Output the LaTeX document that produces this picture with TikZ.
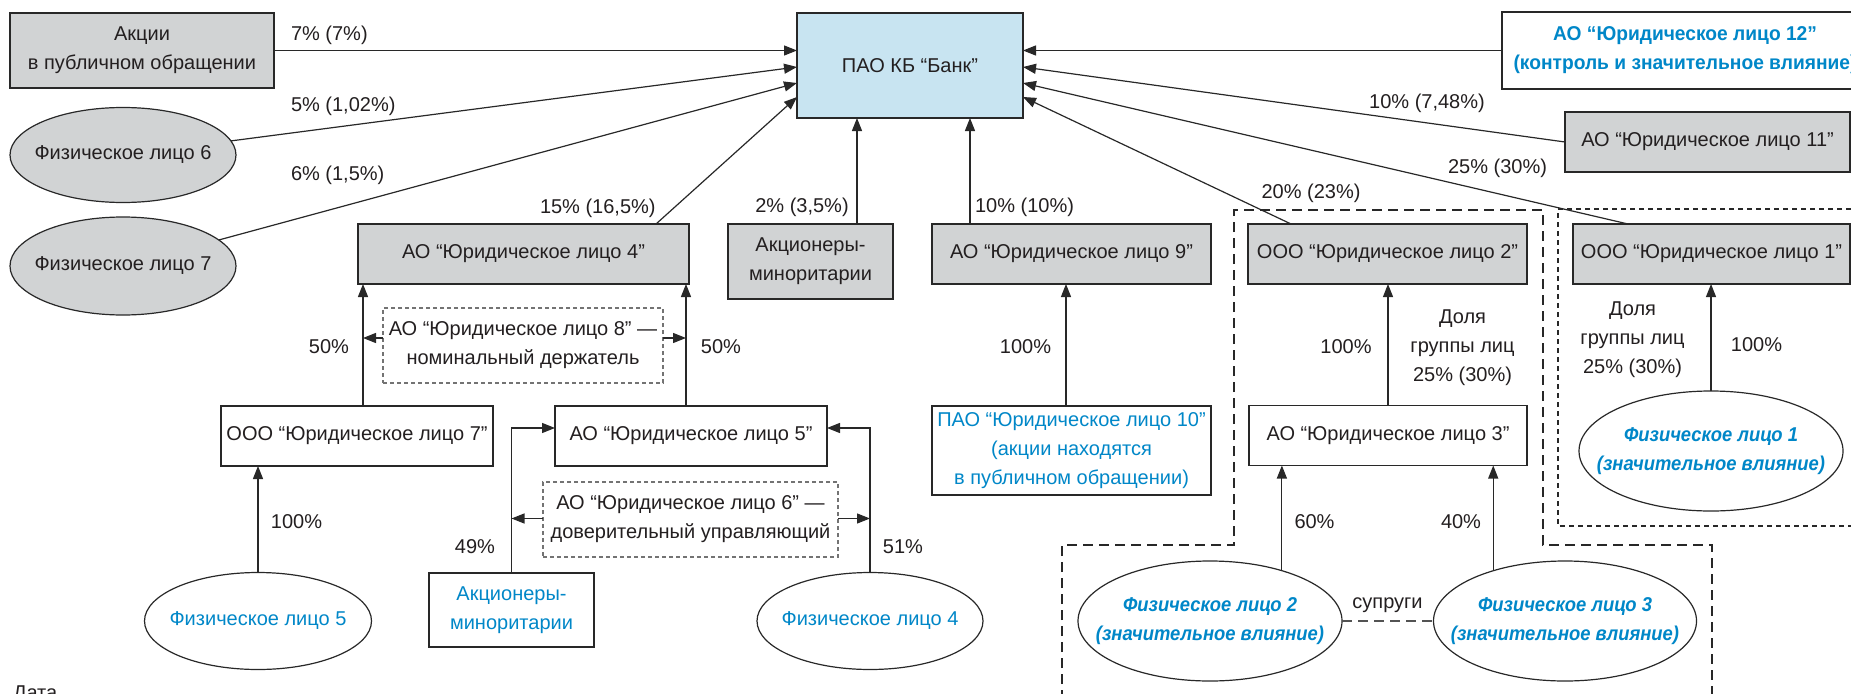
\documentclass[tikz,border=0pt]{standalone}
\usepackage{fontspec}
\setmainfont{Liberation Sans}
\usetikzlibrary{arrows.meta,shapes.geometric,calc}
\definecolor{txt}{RGB}{35,31,32}
\definecolor{blu}{RGB}{0,135,200}
\definecolor{gfill}{RGB}{209,211,212}
\definecolor{bfill}{RGB}{200,228,241}
\definecolor{ln}{RGB}{40,40,40}
\definecolor{dsh}{RGB}{115,115,115}
\begin{document}
\begin{tikzpicture}[x=1pt,y=-1pt,
  every node/.style={font=\fontsize{20}{29}\selectfont, text=txt, inner sep=0pt, outer sep=0pt},
  bi/.style={font=\fontsize{20}{29}\selectfont\bfseries\itshape\addfontfeatures{FakeStretch=0.92}, text=blu, align=center},
  bf/.style={font=\fontsize{20}{29}\selectfont\bfseries\addfontfeatures{FakeStretch=0.96}},
  box/.style={draw=ln, line width=1.3pt, align=center},
  gbox/.style={box, fill=gfill},
  wbox/.style={box, fill=white},
  nbox/.style={draw=dsh, line width=1.1pt, dash pattern=on 4pt off 3pt, align=center},
  ell/.style={ellipse, draw=ln, line width=1.2pt},
  etxt/.style={align=center},
  arr/.style={draw=ln, line width=1.2pt, -{Triangle[length=13pt,width=10pt]}},
  grpA/.style={draw=ln, line width=1.3pt, dash pattern=on 10pt off 6pt},
  grpB/.style={draw=ln, line width=1.3pt, dash pattern=on 5pt off 4pt},
  sp/.style={draw=ln!80, line width=1.3pt, dash pattern=on 10pt off 6pt}]
\useasboundingbox (0,0) rectangle (1851,693);
\clip (0,0) rectangle (1851,693);
\fill[white] (0,0) rectangle (1851,693);

% group frames
\draw[grpA] (1062,700) -- (1062,545) -- (1234,545) -- (1234,210) -- (1543,210) -- (1543,545) -- (1712,545) -- (1712,700);
\draw[grpB] (1860,209) -- (1558,209) -- (1558,526) -- (1860,526);

% boxes
\node[gbox, minimum width=264pt, minimum height=75pt] (akcii) at (142,50.5) {Акции\\в публичном обращении};
\node[box, fill=bfill, minimum width=226pt, minimum height=105pt] (bank) at (910,65.5) {ПАО КБ “Банк”};
\node[wbox, bf, text=blu, minimum width=366pt, minimum height=77pt] (ao12) at (1685,50.5) {АО “Юридическое лицо 12”\\(контроль и значительное влияние)};
\node[gbox, minimum width=285pt, minimum height=60pt] (ao11) at (1707.5,142) {АО “Юридическое лицо 11”};
\node[gbox, minimum width=331pt, minimum height=60pt] (ao4) at (523.5,254) {АО “Юридическое лицо 4”};
\node[gbox, minimum width=165pt, minimum height=75pt] (akmin) at (810.5,261.5) {Акционеры-\\миноритарии};
\node[gbox, minimum width=279pt, minimum height=60pt] (ao9) at (1071.5,254) {АО “Юридическое лицо 9”};
\node[gbox, minimum width=279pt, minimum height=60pt] (ooo2) at (1387.5,254) {ООО “Юридическое лицо 2”};
\node[gbox, minimum width=277pt, minimum height=60pt] (ooo1) at (1711.5,254) {ООО “Юридическое лицо 1”};
\node[nbox, minimum width=280pt, minimum height=75pt] (ao8) at (523,345.5) {АО “Юридическое лицо 8” —\\номинальный держатель};
\node[wbox, minimum width=272pt, minimum height=60pt] (ooo7) at (357,436) {ООО “Юридическое лицо 7”};
\node[wbox, minimum width=272pt, minimum height=60pt] (ao5) at (691,436) {АО “Юридическое лицо 5”};
\node[wbox, text=blu, minimum width=279pt, minimum height=89pt] (ao10) at (1071.5,450.5) {ПАО “Юридическое лицо 10”\\(акции находятся\\в публичном обращении)};
\node[wbox, minimum width=278pt, minimum height=60pt] (ao3) at (1388,435.5) {АО “Юридическое лицо 3”};
\node[nbox, minimum width=295pt, minimum height=75pt] (ao6) at (690.5,519.5) {АО “Юридическое лицо 6” —\\доверительный управляющий};
\node[wbox, text=blu, minimum width=165pt, minimum height=74pt] (akmin2) at (511.5,610) {Акционеры-\\миноритарии};

% ellipses
\node[ell, fill=gfill, minimum width=226pt, minimum height=95pt] (fiz6) at (123,155) {};
\node[etxt] (fiz6t) at (fiz6) {Физическое лицо 6};
\node[ell, fill=gfill, minimum width=226pt, minimum height=98pt] (fiz7) at (123,266) {};
\node[etxt] (fiz7t) at (fiz7) {Физическое лицо 7};
\node[ell, fill=white, minimum width=264pt, minimum height=120pt] (fiz1) at (1711,451) {};
\node[bi] (fiz1t) at (fiz1) {Физическое лицо 1\\(значительное влияние)};
\node[ell, fill=white, minimum width=227pt, minimum height=97pt] (fiz5) at (258,621) {};
\node[etxt, text=blu] (fiz5t) at (fiz5) {Физическое лицо 5};
\node[ell, fill=white, minimum width=226pt, minimum height=97pt] (fiz4) at (870,621) {};
\node[etxt, text=blu] (fiz4t) at (fiz4) {Физическое лицо 4};
\node[ell, fill=white, minimum width=264pt, minimum height=120pt] (fiz2) at (1210,621) {};
\node[bi] (fiz2t) at (fiz2) {Физическое лицо 2\\(значительное влияние)};
\node[ell, fill=white, minimum width=263pt, minimum height=120pt] (fiz3) at (1565,621) {};
\node[bi] (fiz3t) at (fiz3) {Физическое лицо 3\\(значительное влияние)};

% connectors to the bank
\draw[arr] (akcii.east) -- (akcii.east -| bank.west);
\draw[arr] (fiz6) -- (bank.west |- 0,67);
\draw[arr] (fiz7) -- (bank.west |- 0,83);
\draw[arr] ([xshift=132.5pt]ao4.north) -- (bank.west |- 0,97);
\coordinate (vm) at ([xshift=46.5pt]akmin.north);
\draw[arr] (vm) -- (vm |- bank.south);
\coordinate (v9) at ([xshift=-101.5pt]ao9.north);
\draw[arr] (v9) -- (v9 |- bank.south);
\draw[arr] (ao12.west) -- (ao12.west -| bank.east);
\draw[arr] (ao11.west) -- (bank.east |- 0,67);
\draw[arr] ([xshift=-83.5pt]ooo1.north) -- (bank.east |- 0,83);
\draw[arr] ([xshift=-96.5pt]ooo2.north) -- (bank.east |- 0,97);

% lower connectors
\coordinate (v7) at ([xshift=6pt]ooo7.north);
\coordinate (v5) at ([xshift=-5pt]ao5.north);
\coordinate (a8l) at ([yshift=7.5pt]ao8.west);
\coordinate (a8r) at ([yshift=7.5pt]ao8.east);
\coordinate (a6l) at ([yshift=1pt]ao6.west);
\coordinate (a6r) at ([yshift=1pt]ao6.east);
\draw[arr] (v7) -- (v7 |- ao4.south);
\draw[arr] (v5) -- (v5 |- ao4.south);
\draw[arr] (a8l) -- (a8l -| v7);
\draw[arr] (a8r) -- (a8r -| v5);
\draw[arr] (akmin2.north) |- ([yshift=8pt]ao5.west);
\draw[arr] (fiz4.north) |- ([yshift=8pt]ao5.east);
\draw[arr] (a6l) -- (a6l -| akmin2.north);
\draw[arr] (a6r) -- (a6r -| fiz4.north);
\draw[arr] (fiz5.north) -- (fiz5.north |- ooo7.south);
\coordinate (v10) at ([xshift=-5.5pt]ao10.north);
\draw[arr] (v10) -- (v10 |- ao9.south);
\draw[arr] (ao3.north) -- (ao3.north |- ooo2.south);
\draw[arr] (fiz1.north) -- (fiz1.north |- ooo1.south);
\draw[arr] (fiz2.35) -- (fiz2.35 |- ao3.south);
\draw[arr] (fiz3.145) -- (fiz3.145 |- ao3.south);
\draw[sp] (fiz2.east) -- (fiz3.west);

% labels
\node[anchor=west] (l1) at (291,35) {7\% (7\%)};
\node[anchor=west] (l2) at (291,106) {5\% (1,02\%)};
\node[anchor=west] (l3) at (291,175) {6\% (1,5\%)};
\node[anchor=west] (l4) at (540,208) {15\% (16,5\%)};
\node (l5) at (802,207) {2\% (3,5\%)};
\node (l6) at (1024.5,207) {10\% (10\%)};
\node (l7) at (1427,103) {10\% (7,48\%)};
\node (l8) at (1497.5,168) {25\% (30\%)};
\node (l9) at (1311,193) {20\% (23\%)};
\node (l10) at (329,347) {50\%};
\node (l11) at (721,347) {50\%};
\node (l12) at (1025.5,347) {100\%};
\node (l13) at (1346,347) {100\%};
\node[align=center] (l14) at (1462.5,347.5) {Доля\\группы лиц\\25\% (30\%)};
\node[align=center] (l15) at (1632.5,340) {Доля\\группы лиц\\25\% (30\%)};
\node (l16) at (1756.5,345) {100\%};
\node (l17) at (296.5,522) {100\%};
\node (l18) at (475,547) {49\%};
\node (l19) at (903,547) {51\%};
\node (l20) at (1314.5,522) {60\%};
\node (l21) at (1461,522) {40\%};
\node (l22) at (1387.5,605) {супруги};
\node[anchor=base west] (l23) at (13,699.5) {Дата};
\end{tikzpicture}
\end{document}
